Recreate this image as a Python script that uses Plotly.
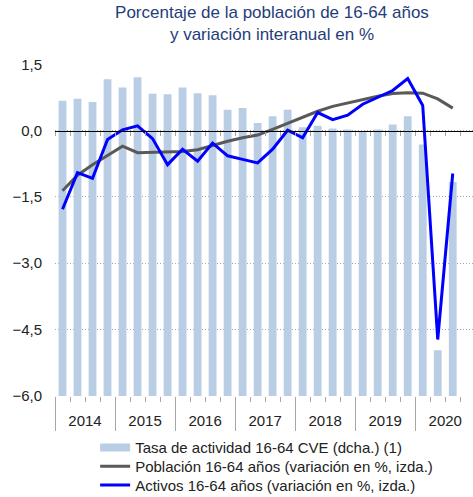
import plotly.graph_objects as go

# ---- data ----
years = ["2014", "2015", "2016", "2017", "2018", "2019", "2020"]
quarters = [f"{y}-T{q}" for y in years for q in (1, 2, 3, 4)][:27]

# Tasa de actividad 16-64 CVE (right axis, %)
tasa = [75.34, 75.38, 75.32, 75.73, 75.58, 75.77, 75.47, 75.46, 75.58, 75.48,
        75.44, 75.18, 75.21, 74.94, 75.06, 75.18, 74.86, 74.89, 74.84, 74.82,
        74.78, 74.82, 74.91, 75.06, 74.55, 70.82, 73.87]
# Población 16-64 años (variación %, left axis)
poblacion = [-1.36, -1.01, -0.77, -0.56, -0.35, -0.50, -0.49, -0.49, -0.47, -0.43,
             -0.33, -0.24, -0.16, -0.10, 0.03, 0.17, 0.31, 0.44, 0.55, 0.63,
             0.71, 0.78, 0.84, 0.86, 0.85, 0.72, 0.51]
# Activos 16-64 años (variación %, left axis)
activos = [-1.78, -0.95, -1.08, -0.20, 0.02, 0.11, -0.18, -0.77, -0.42, -0.69,
           -0.28, -0.57, -0.65, -0.73, -0.42, 0.01, -0.16, 0.41, 0.25, 0.35,
           0.60, 0.76, 0.91, 1.18, 0.57, -4.73, -0.97]

left_ticks = [-6.0, -4.5, -3.0, -1.5, 0.0, 1.5]

# ---- styling ----
BAR = "#B9CDE5"
GRAY = "#595959"
BLUE = "#0000FF"
TICKC = "#A6A6A6"
FONT = "Arial, Liberation Sans, sans-serif"

x = list(range(len(quarters)))
year_centers = [4 * i + 1.5 for i in range(len(years))]
quarter_bounds = [k - 0.5 for k in range(0, 28)]
year_bounds = [4 * i - 0.5 for i in range(len(years))]

xr = [-0.5, 27.35]
left_range = [-6.01, 1.51]
right_range = [69.992, 76.008]
zero_pos = (0 - left_range[0]) / (left_range[1] - left_range[0])

fig = go.Figure()
fig.add_trace(go.Bar(x=x, y=tasa, marker=dict(color=BAR, line=dict(width=0)),
                     width=0.52, xaxis="x", yaxis="y", showlegend=False,
                     name="Tasa de actividad 16-64 CVE (dcha.) (1)"))
fig.add_trace(go.Scatter(x=[None], y=[None], mode="lines",
                         line=dict(color=BAR, width=8), xaxis="x3", yaxis="y2",
                         legend="legend",
                         name="Tasa de actividad 16-64 CVE (dcha.) (1)"))
fig.add_trace(go.Scatter(x=x, y=poblacion, mode="lines",
                         line=dict(color=GRAY, width=3), xaxis="x2", yaxis="y2",
                         legend="legend2",
                         name="Población 16-64 años (variación en %, izda.)"))
fig.add_trace(go.Scatter(x=x, y=activos, mode="lines",
                         line=dict(color=BLUE, width=3), xaxis="x4", yaxis="y2",
                         legend="legend3",
                         name="Activos 16-64 años (variación en %, izda.)"))

common_x = dict(range=xr, automargin=False, showgrid=False, zeroline=False,
                fixedrange=True)
leg = dict(x=0.096, xanchor="left", yanchor="middle", bgcolor="rgba(0,0,0,0)",
           font=dict(size=15, color="#222222"), itemclick=False,
           itemdoubleclick=False)

fig.update_layout(
    width=473, height=497,
    margin=dict(l=55, r=0, t=64, b=101, autoexpand=False),
    paper_bgcolor="white", plot_bgcolor="white",
    separators=",.",
    font=dict(family=FONT, size=15, color="#222222"),
    showlegend=True,
    title=dict(text="Porcentaje de la población de 16-64 años<br>y variación interanual en %",
               x=0.575, xanchor="center", xref="container",
               y=0.964, yanchor="top", yref="container", automargin=False,
               font=dict(family=FONT, size=17, color="#1F3D7A")),
    legend=dict(y=-0.156, **leg),
    legend2=dict(y=-0.2125, **leg),
    legend3=dict(y=-0.269, **leg),
    xaxis=dict(tickmode="array", tickvals=year_centers, ticktext=years,
               ticks="", showline=False, ticklabelstandoff=14,
               tickfont=dict(size=15, color="#222222"), **common_x),
    xaxis2=dict(overlaying="x", anchor="y", side="bottom",
                tickmode="array", tickvals=quarter_bounds, ticks="outside",
                ticklen=5, tickcolor=TICKC, tickwidth=1, showticklabels=False,
                showline=False, **common_x),
    xaxis3=dict(overlaying="x", anchor="y", side="bottom",
                tickmode="array", tickvals=year_bounds, ticks="outside",
                ticklen=34, tickcolor=TICKC, tickwidth=1, showticklabels=False,
                showline=False, **common_x),
    xaxis4=dict(overlaying="x", anchor="free", position=zero_pos, side="bottom",
                tickmode="array", tickvals=quarter_bounds,
                ticks="outside", ticklen=4, tickcolor=TICKC, tickwidth=1,
                showticklabels=False, showline=True, linecolor="black",
                linewidth=1, layer="above traces", **common_x),
    yaxis=dict(range=right_range, visible=False, showgrid=False, zeroline=False,
               automargin=False, fixedrange=True),
    yaxis2=dict(overlaying="y", side="left", anchor="x", range=left_range,
                tickmode="array", tickvals=left_ticks, tickformat=".1f",
                ticks="", showgrid=True, gridcolor="#A6A6A6", gridwidth=1,
                griddash="1px,2px", zeroline=False, showline=False,
                automargin=False, fixedrange=True,
                ticklabelstandoff=12, tickfont=dict(size=15, color="#222222")),
)

fig.write_html("out.html", config={"displayModeBar": False},
               post_script="document.body.style.margin='0';document.body.style.overflow='hidden';")
